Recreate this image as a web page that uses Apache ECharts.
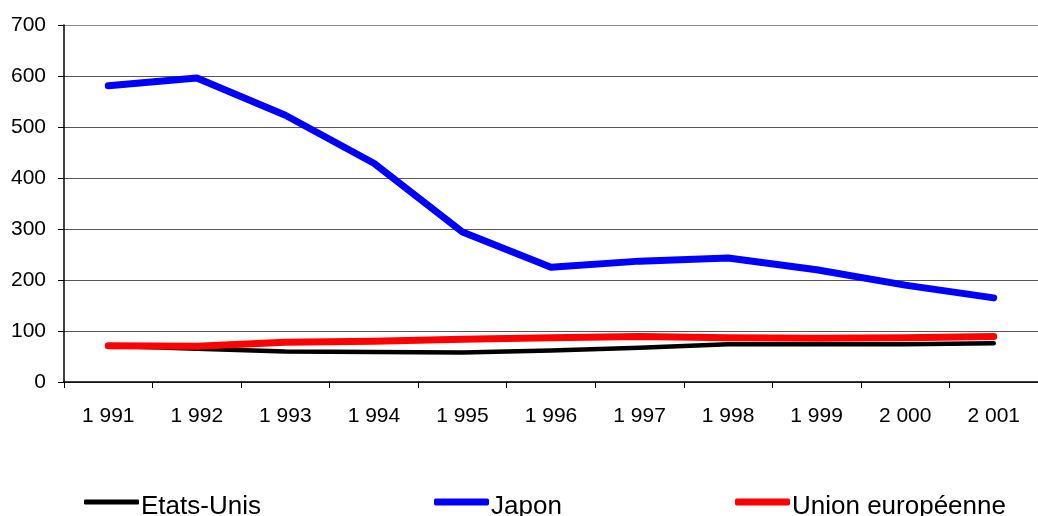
<!DOCTYPE html>
<html>
<head>
<meta charset="utf-8">
<script src="https://cdn.jsdelivr.net/npm/echarts@6/dist/echarts.min.js"></script>
<style>
  html, body { margin: 0; padding: 0; background: #fff; }
  #chart { width: 1038px; height: 516px; }
</style>
</head>
<body>
<div id="chart"></div>
<script>
// Years on the category axis, with a space as thousands separator
const years = ['1 991', '1 992', '1 993', '1 994', '1 995', '1 996', '1 997', '1 998', '1 999', '2 000', '2 001'];

const etatsUnis = [71, 65, 60, 59, 58, 62, 67, 74, 74, 74, 76];
const japon = [581, 596, 523, 429, 294, 225, 237, 243, 220, 190, 165];
const unionEuropeenne = [71, 70, 78, 80, 84, 87, 89, 87, 86, 87, 89];

const FONT = 'Liberation Sans, Arial, sans-serif';

const chart = echarts.init(document.getElementById('chart'), null, { renderer: 'canvas' });

// One legend per series so each entry sits at its own position along the bottom
function legendFor(name, left, height) {
  return {
    data: [name],
    left: left,
    top: 494,
    icon: 'roundRect',
    itemWidth: 55,
    itemHeight: height,
    itemGap: 0,
    padding: 0,
    selectedMode: false,
    formatter: '{t|{name}}',
    textStyle: {
      fontFamily: FONT, fontSize: 26, color: '#000',
      rich: { t: { fontFamily: FONT, fontSize: 26, color: '#000', padding: [10, 0, 0, -3] } }
    }
  };
}

chart.setOption({
  animation: false,
  backgroundColor: '#fff',
  grid: { left: 64, top: 25, width: 982, height: 357, containLabel: false },
  legend: [
    legendFor('Etats-Unis', 84, 5),
    legendFor('Japon', 434, 7),
    legendFor('Union européenne', 735, 7)
  ],
  xAxis: {
    type: 'category',
    data: years,
    boundaryGap: true,
    axisLine: { lineStyle: { color: '#000', width: 1.5 } },
    axisTick: { show: true, length: 6, lineStyle: { color: '#000' } },
    axisLabel: { fontFamily: FONT, fontSize: 21, color: '#000', margin: 24 },
    splitLine: { show: false }
  },
  yAxis: {
    type: 'value',
    min: 0,
    max: 700,
    interval: 100,
    axisLine: { show: true, lineStyle: { color: '#000', width: 1.5 } },
    axisTick: { show: true, length: 6, lineStyle: { color: '#000' } },
    axisLabel: { fontFamily: FONT, fontSize: 21, color: '#000', margin: 18 },
    splitLine: {
      show: true,
      lineStyle: { color: ['#555', '#555', '#555', '#555', '#555', '#555', '#555', '#888'], width: 1 }
    }
  },
  series: [
    {
      name: 'Etats-Unis',
      type: 'line',
      data: etatsUnis,
      showSymbol: false,
      color: '#000',
      lineStyle: { color: '#000', width: 4.5, cap: 'round', join: 'round' }
    },
    {
      name: 'Japon',
      type: 'line',
      data: japon,
      showSymbol: false,
      color: '#0000ff',
      lineStyle: { color: '#0000ff', width: 7, cap: 'round', join: 'round' }
    },
    {
      name: 'Union européenne',
      type: 'line',
      data: unionEuropeenne,
      showSymbol: false,
      color: '#ff0000',
      lineStyle: { color: '#ff0000', width: 7, cap: 'round', join: 'round' }
    }
  ]
});
</script>
</body>
</html>
